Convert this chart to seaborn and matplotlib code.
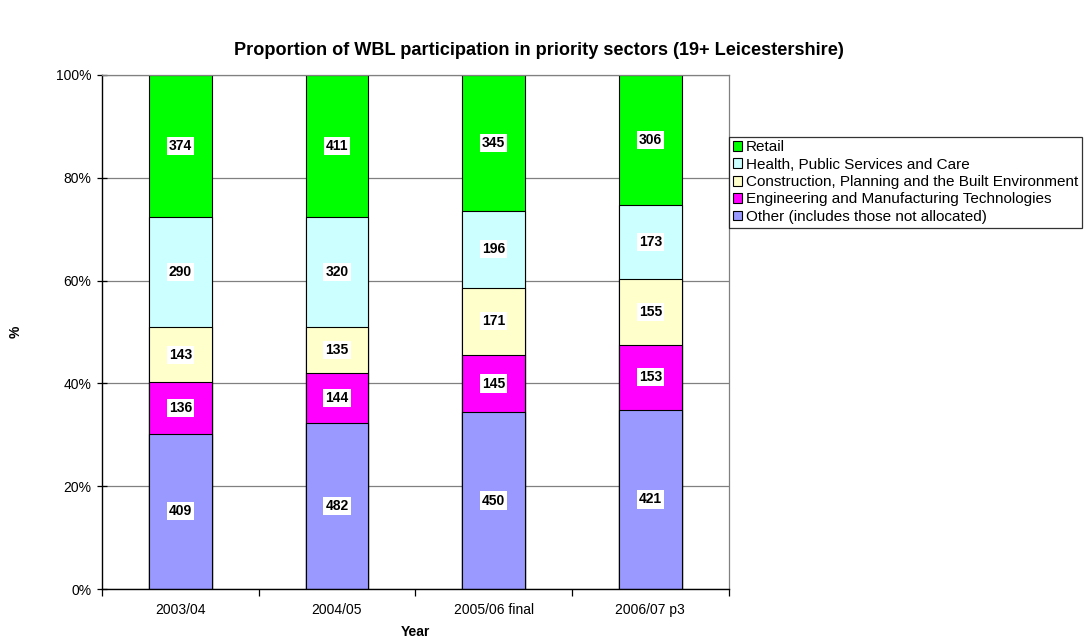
import matplotlib
matplotlib.use("Agg")
import matplotlib.pyplot as plt
import seaborn as sns
import numpy as np
from matplotlib.patches import Patch
from matplotlib.ticker import FixedLocator, PercentFormatter

years = ["2003/04", "2004/05", "2005/06 final", "2006/07 p3"]
other = [409, 482, 450, 421]
engineering = [136, 144, 145, 153]
construction = [143, 135, 171, 155]
health = [290, 320, 196, 173]
retail = [374, 411, 345, 306]

series_names = ["Other (includes those not allocated)",
                "Engineering and Manufacturing Technologies",
                "Construction, Planning and the Built Environment",
                "Health, Public Services and Care",
                "Retail"]
series_vals = [other, engineering, construction, health, retail]
colors = ["#9999FF", "#FF00FF", "#FFFFCC", "#CCFFFF", "#00FF00"]

sns.set_theme(style="white")
plt.rcParams['font.family'] = ['Liberation Sans', 'DejaVu Sans']
plt.rcParams['text.color'] = 'black'
plt.rcParams['axes.labelcolor'] = 'black'
plt.rcParams['xtick.color'] = 'black'
plt.rcParams['ytick.color'] = 'black'

fig = plt.figure(figsize=(10.87, 6.41), dpi=100)
ax = fig.add_axes([0.0938, 0.0811, 0.5765, 0.8019])

data = np.array(series_vals, dtype=float)
totals = data.sum(axis=0)
pct = data / totals * 100
cum = np.cumsum(pct, axis=0)

ax.set_axisbelow(True)
for i in range(len(series_vals) - 1, -1, -1):
    sns.barplot(x=years, y=cum[i], color=colors[i], edgecolor="black",
                linewidth=0.8, width=0.4, saturation=1, ax=ax, zorder=2)

for i in range(len(series_vals)):
    for j in range(len(years)):
        mid = cum[i][j] - pct[i][j] / 2
        ax.text(j, mid, str(series_vals[i][j]), ha="center", va="center",
                fontsize=10, fontweight="bold", color="black", zorder=5,
                bbox=dict(facecolor="white", edgecolor="none", pad=1.5))

ax.set_ylim(0, 100)
ax.set_xlim(-0.5, len(years) - 0.5)
ax.yaxis.set_major_locator(FixedLocator([0, 20, 40, 60, 80, 100]))
ax.yaxis.set_major_formatter(PercentFormatter(decimals=0))
ax.grid(axis="y", color="#808080", linewidth=0.9)
ax.grid(axis="x", visible=False)

ax.tick_params(axis="y", which="major", direction="inout", length=7, width=0.9,
               colors="black", labelsize=10, left=True, pad=4)
ax.tick_params(axis="x", which="major", length=0, labelsize=10, pad=10)
ax.set_xticks(range(len(years)))
ax.set_xticklabels(years)
ax.xaxis.set_minor_locator(FixedLocator([-0.5, 0.5, 1.5, 2.5, 3.5]))
ax.tick_params(axis="x", which="minor", direction="out", length=5, width=0.9,
               colors="black", bottom=True)

for s in ["left", "bottom"]:
    ax.spines[s].set_color("black")
    ax.spines[s].set_linewidth(1.0)
for s in ["right", "top"]:
    ax.spines[s].set_color("#808080")
    ax.spines[s].set_linewidth(0.9)

ax.set_xlabel("Year", fontsize=10, fontweight="bold", labelpad=6)
ax.set_ylabel("%", fontsize=10, fontweight="bold", labelpad=24)

fig.suptitle("Proportion of WBL participation in priority sectors (19+ Leicestershire)",
             fontsize=13.1, fontweight="bold", x=0.496, y=0.935)

handles = [Patch(facecolor=colors[i], edgecolor="black", linewidth=0.8)
           for i in range(len(series_names) - 1, -1, -1)]
labels = [series_names[i] for i in range(len(series_names) - 1, -1, -1)]
leg = fig.legend(handles, labels, loc="upper left", bbox_to_anchor=(0.6705, 0.787),
                 frameon=True, fancybox=False, fontsize=11, handlelength=0.6,
                 handleheight=0.6, handletextpad=0.25, labelspacing=0.22,
                 borderpad=0.25, borderaxespad=0)
leg.get_frame().set_edgecolor("black")
leg.get_frame().set_linewidth(0.9)

fig.savefig("out.png", dpi=100)
